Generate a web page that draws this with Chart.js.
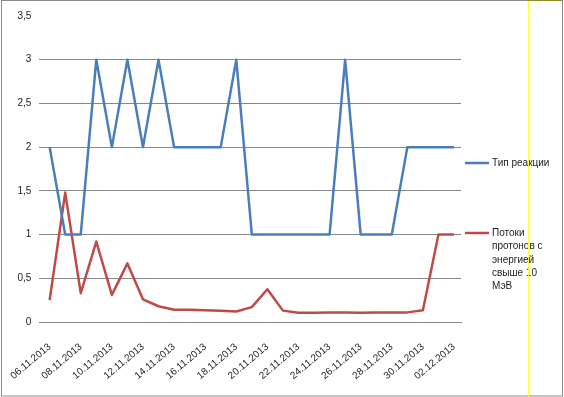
<!DOCTYPE html>
<html lang="ru">
<head>
    <meta charset="UTF-8">
    <title>Тип реакции</title>
    <script src="https://cdn.jsdelivr.net/npm/chart.js"></script>
    <style>
        body { margin: 0; background: #fff; }
        #wrap { position: relative; width: 564px; height: 397px; }
    </style>
</head>
<body>
    <div id="wrap"><canvas id="chart" width="564" height="397"></canvas></div>

    <script>
        const dates = ['06.11.2013','07.11.2013','08.11.2013','09.11.2013','10.11.2013','11.11.2013','12.11.2013',
            '13.11.2013','14.11.2013','15.11.2013','16.11.2013','17.11.2013','18.11.2013','19.11.2013',
            '20.11.2013','21.11.2013','22.11.2013','23.11.2013','24.11.2013','25.11.2013','26.11.2013',
            '27.11.2013','28.11.2013','29.11.2013','30.11.2013','01.12.2013','02.12.2013'];
        const reactionType = [2,1,1,3,2,3,2,3,2,2,2,2,3,1,1,1,1,1,1,3,1,1,1,2,2,2,2];
        const protonFlux = [0.25,1.48,0.33,0.92,0.31,0.67,0.26,0.18,0.14,0.14,0.135,0.13,0.12,0.17,
            0.375,0.13,0.105,0.105,0.11,0.11,0.105,0.11,0.11,0.11,0.135,1.0,1.0];
        const yTicks = [0, 0.5, 1, 1.5, 2, 2.5, 3, 3.5];
        const legendLines = [['Тип реакции'], ['Потоки', 'протонов с', 'энергией', 'свыше 10', 'МэВ']];

        const toPoints = arr => arr.map((v, i) => ({ x: i, y: v }));

        // legend drawn by hand to mimic the Excel layout on the right
        const sideLegend = {
            id: 'sideLegend',
            afterDraw(chart) {
                const ctx = chart.ctx;
                const area = chart.chartArea;
                const rows = [163, 233];
                ctx.save();
                ctx.font = '10px "Liberation Sans", Arial, sans-serif';
                ctx.textBaseline = 'middle';
                chart.data.datasets.forEach((ds, k) => {
                    const y = rows[k];
                    ctx.strokeStyle = ds.borderColor;
                    ctx.lineWidth = 2.5;
                    ctx.beginPath();
                    ctx.moveTo(area.right + 4, y);
                    ctx.lineTo(area.right + 28, y);
                    ctx.stroke();
                    ctx.fillStyle = '#222';
                    legendLines[k].forEach((t, j) => ctx.fillText(t, area.right + 31, y + j * 13.4));
                });
                // outer frame and the stray yellow line from the screenshot
                ctx.strokeStyle = '#8a8a8a';
                ctx.lineWidth = 1;
                ctx.strokeRect(1.5, 0.5, 561, 395.5);
                ctx.strokeStyle = '#ffff33';
                ctx.beginPath();
                ctx.moveTo(528.5, 0);
                ctx.lineTo(528.5, 397);
                ctx.stroke();
                ctx.strokeStyle = '#8c8c2a';
                ctx.beginPath();
                ctx.moveTo(528, 0.5);
                ctx.lineTo(562, 0.5);
                ctx.stroke();
                ctx.restore();
            }
        };

        new Chart(document.getElementById('chart'), {
            type: 'line',
            data: {
                datasets: [{
                    label: legendLines[0].join(' '),
                    data: toPoints(reactionType),
                    borderColor: '#4a7ebb',
                    borderWidth: 2.5,
                    borderJoinStyle: 'round',
                    pointRadius: 0,
                    tension: 0
                }, {
                    label: legendLines[1].join(' '),
                    data: toPoints(protonFlux),
                    borderColor: '#be4b48',
                    borderWidth: 2.5,
                    borderJoinStyle: 'round',
                    pointRadius: 0,
                    tension: 0
                }]
            },
            options: {
                responsive: false,
                animation: false,
                layout: { padding: { left: 0, top: 16, right: 103, bottom: 0 } },
                plugins: { legend: { display: false }, tooltip: { enabled: false } },
                scales: {
                    x: {
                        type: 'linear',
                        min: -0.66,
                        max: 26.45,
                        afterBuildTicks: scale => {
                            scale.ticks = dates.map((d, i) => ({ value: i })).filter(t => t.value % 2 === 0);
                        },
                        afterFit: scale => { scale.height = 75; },
                        grid: { display: false },
                        border: { display: true, color: '#868686', width: 1 },
                        ticks: {
                            autoSkip: false,
                            minRotation: 40,
                            maxRotation: 40,
                            padding: 11,
                            color: '#222',
                            font: { family: '"Liberation Sans", Arial, sans-serif', size: 10 },
                            callback: v => dates[v]
                        }
                    },
                    y: {
                        min: 0,
                        max: 3.5,
                        afterBuildTicks: scale => { scale.ticks = yTicks.map(v => ({ value: v })); },
                        afterFit: scale => { scale.width = 36; },
                        grid: {
                            drawTicks: false,
                            color: c => (c.tick && c.tick.value === 3.5) ? 'rgba(0,0,0,0)' : '#878787'
                        },
                        border: { display: false },
                        ticks: {
                            padding: 8,
                            color: '#222',
                            font: { family: '"Liberation Sans", Arial, sans-serif', size: 10 },
                            callback: v => String(v).replace('.', ',')
                        }
                    }
                }
            },
            plugins: [sideLegend]
        });
    </script>
</body>
</html>
